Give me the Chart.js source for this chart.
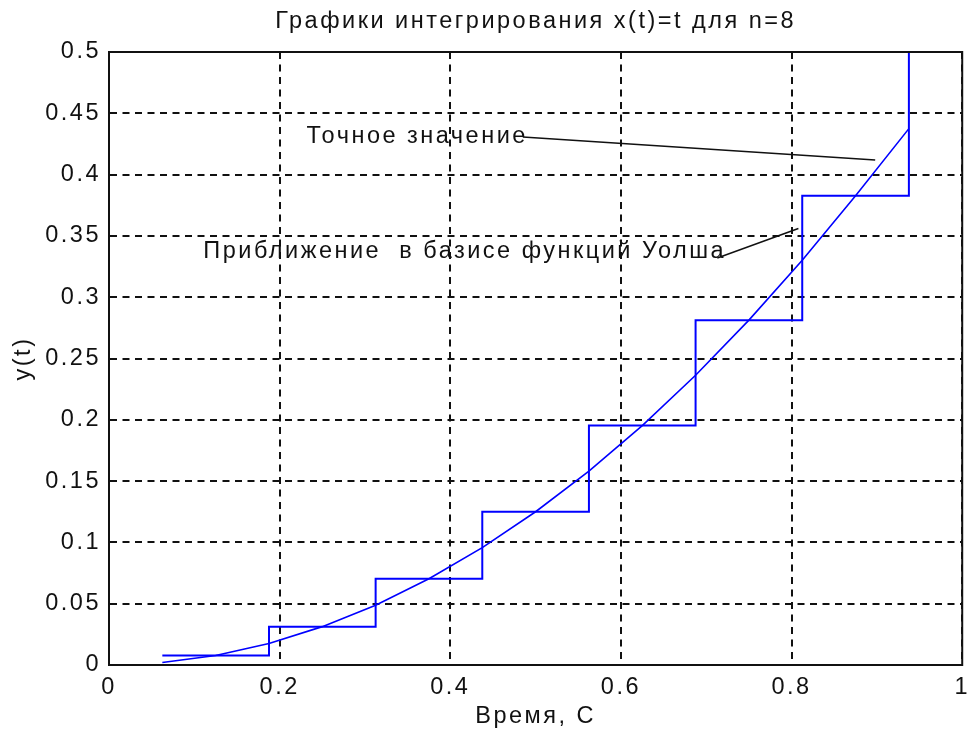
<!DOCTYPE html>
<html>
<head>
<meta charset="utf-8">
<script src="https://cdn.jsdelivr.net/npm/chart.js@4"></script>
<style>
html,body{margin:0;padding:0;background:#fff;}
#wrap{width:978px;height:738px;position:relative;}
</style>
</head>
<body>
<div id="wrap"><canvas id="c"></canvas></div>
<script>
// ---- data ----
const stairX = [0.0625, 0.1875, 0.3125, 0.4375, 0.5625, 0.6875, 0.8125, 0.9375];
const stairY = [0.0078, 0.0313, 0.0703, 0.125, 0.1953, 0.2813, 0.3828, 0.5];
const curveX = [0.0625, 0.125, 0.1875, 0.25, 0.3125, 0.375, 0.4375, 0.5, 0.5625, 0.625, 0.6875, 0.75, 0.8125, 0.875, 0.9375];
const curveY = [0.002, 0.0078, 0.0176, 0.0313, 0.0488, 0.0703, 0.0957, 0.125, 0.1582, 0.1953, 0.2363, 0.2813, 0.3301, 0.3828, 0.4375];
const xTicks = [0, 0.2, 0.4, 0.6, 0.8, 1];
const xTickLabels = ['0', '0.2', '0.4', '0.6', '0.8', '1'];
const yTicks = [0, 0.05, 0.1, 0.15, 0.2, 0.25, 0.3, 0.35, 0.4, 0.45, 0.5];
const yTickLabels = ['0', '0.05', '0.1', '0.15', '0.2', '0.25', '0.3', '0.35', '0.4', '0.45', '0.5'];
const exactLineX = [0.485, 0.898];
const exactLineY = [0.4307, 0.4119];
const approxLineX = [0.713, 0.808];
const approxLineY = [0.332, 0.356];
const labelTexts = ['Точное значение', 'Приближение  в базисе функций Уолша'];
const labelX = [0.2316, 0.1106];
const labelY = [0.4307, 0.3369];
const titleText = 'Графики интегрирования x(t)=t для n=8';
const xTitle = 'Время, С';
const yTitle = 'y(t)';

const FONT = "'Liberation Sans', Arial, sans-serif";
const FS = 23.5;
const LS = '2.5px';
const ink = '#111';

function pts(xs, ys){ return xs.map((x,i)=>({x:x, y:ys[i]})); }

const spacingPlugin = {
  id: 'spacing',
  beforeUpdate(chart){ chart.ctx.letterSpacing = LS; },
  beforeLayout(chart){ chart.ctx.letterSpacing = LS; },
  beforeDraw(chart){ chart.ctx.letterSpacing = LS; }
};

const decorPlugin = {
  id: 'decor',
  afterDatasetsDraw(chart){
    const ctx = chart.ctx, xs = chart.scales.x, ys = chart.scales.y;
    ctx.save();
    ctx.letterSpacing = LS;
    ctx.font = FS + 'px ' + FONT;
    ctx.fillStyle = ink;
    ctx.textAlign = 'left';
    ctx.textBaseline = 'middle';
    labelTexts.forEach((t,i)=>{
      ctx.fillText(t, xs.getPixelForValue(labelX[i]), ys.getPixelForValue(labelY[i]));
    });
    ctx.restore();
  },
  afterDraw(chart){
    const ctx = chart.ctx, a = chart.chartArea;
    ctx.save();
    ctx.strokeStyle = ink;
    ctx.lineWidth = 2;
    ctx.setLineDash([]);
    ctx.strokeRect(a.left, a.top, a.right - a.left, a.bottom - a.top);
    ctx.restore();
  }
};

new Chart(document.getElementById('c'), {
  type: 'line',
  data: {
    datasets: [
      { data: pts(curveX, curveY), borderColor: '#0000ff', borderWidth: 1.6, pointRadius: 0, tension: 0, fill: false },
      { data: pts(stairX, stairY), borderColor: '#0000ff', borderWidth: 2, pointRadius: 0, stepped: true, fill: false },
      { data: pts(exactLineX, exactLineY), borderColor: ink, borderWidth: 1.5, pointRadius: 0, fill: false },
      { data: pts(approxLineX, approxLineY), borderColor: ink, borderWidth: 1.5, pointRadius: 0, fill: false }
    ]
  },
  options: {
    responsive: true,
    maintainAspectRatio: false,
    animation: false,
    devicePixelRatio: 1,
    layout: { padding: { left: 0, right: 1, top: 0, bottom: 0 } },
    plugins: {
      legend: { display: false },
      tooltip: { enabled: false },
      title: {
        display: true, text: titleText, color: ink, fullSize: false,
        font: { family: FONT, size: FS, weight: 'normal' },
        padding: { top: 7, bottom: 16.8 }
      }
    },
    scales: {
      x: {
        type: 'linear', min: 0, max: 1,
        afterBuildTicks(s){ s.ticks = xTicks.map(v=>({value:v})); },
        afterFit(s){ s.height = 73; },
        ticks: {
          color: ink, font: { family: FONT, size: FS }, padding: 8,
          maxRotation: 0, autoSkip: false,
          callback(v){ const i = xTicks.indexOf(v); return i >= 0 ? xTickLabels[i] : ''; }
        },
        grid: { color: ink, lineWidth: 2, drawTicks: false },
        border: { display: true, color: ink, width: 2, dash: [7, 5.5] },
        title: { display: true, text: xTitle, color: ink, font: { family: FONT, size: FS }, padding: { top: 0, bottom: 7 } }
      },
      y: {
        type: 'linear', min: 0, max: 0.5,
        afterBuildTicks(s){ s.ticks = yTicks.map(v=>({value:v})); },
        afterFit(s){ s.width = 109; },
        ticks: {
          color: ink, font: { family: FONT, size: FS }, padding: 8, autoSkip: false,
          callback(v){ const i = yTicks.findIndex(t=>Math.abs(t-v)<1e-9); return i >= 0 ? yTickLabels[i] : ''; }
        },
        grid: { color: ink, lineWidth: 2, drawTicks: false },
        border: { display: true, color: ink, width: 2, dash: [7, 5.5] },
        title: { display: true, text: yTitle, color: ink, font: { family: FONT, size: FS }, padding: { top: 9, bottom: 0 } }
      }
    }
  },
  plugins: [spacingPlugin, decorPlugin]
});
</script>
</body>
</html>
